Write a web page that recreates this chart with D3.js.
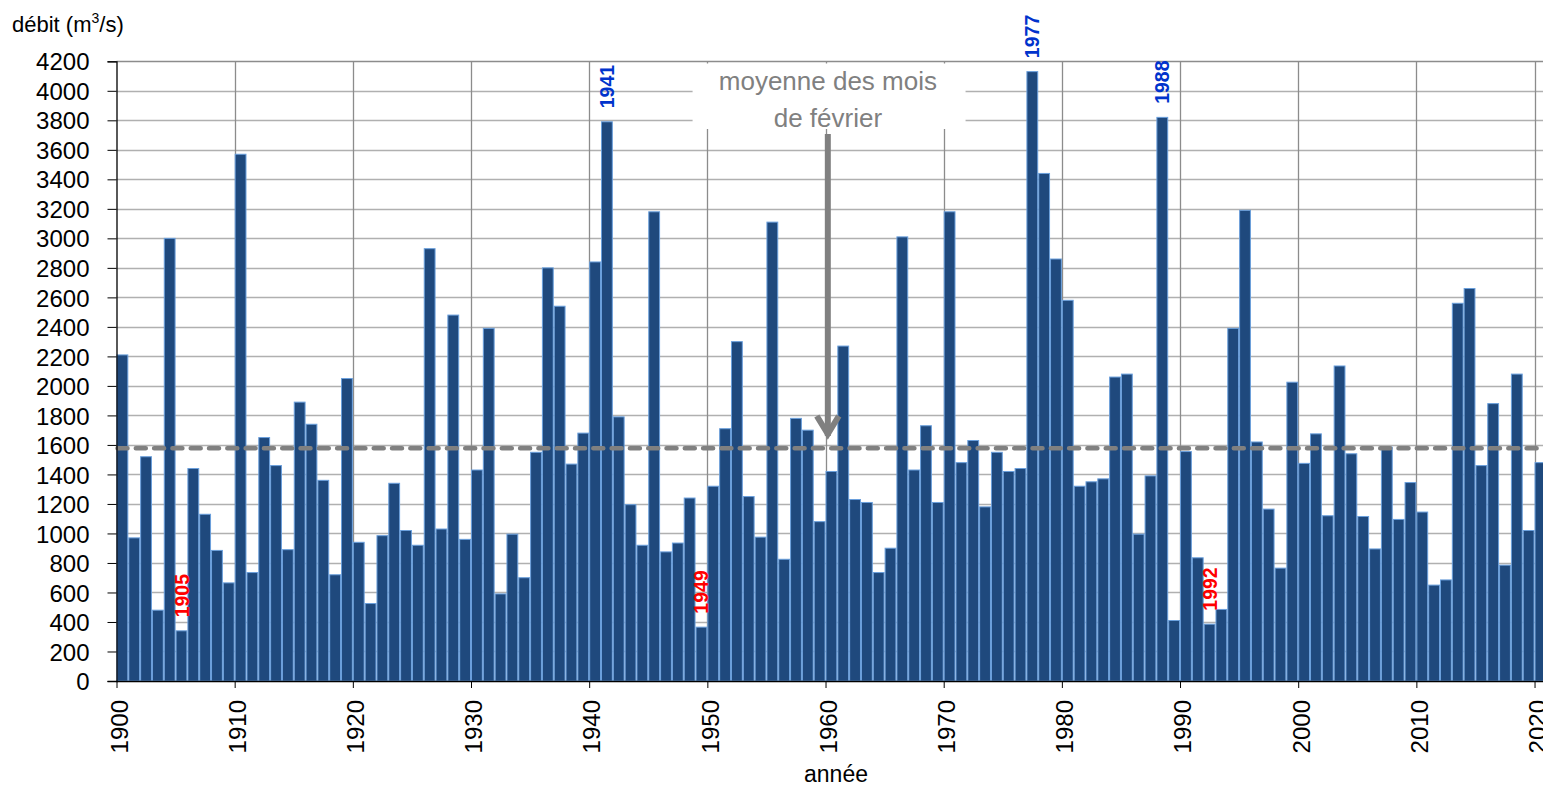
<!DOCTYPE html>
<html><head><meta charset="utf-8">
<script src="https://cdn.jsdelivr.net/npm/d3@7"></script>
<style>
html,body{margin:0;padding:0;background:#fff;overflow:hidden}
text{font-family:"Liberation Sans",Arial,sans-serif}
</style></head>
<body><svg id="c" width="1543" height="786"></svg>
<script>
const years = d3.range(1900, 2021);
const debit = [
 2210, 970, 1520, 480, 3000, 340, 1440, 1130, 885, 665,
 3570, 735, 1650, 1460, 890, 1890, 1740, 1360, 720, 2050,
 940, 525, 985, 1340, 1020, 920, 2930, 1030, 2480, 960,
 1430, 2390, 590, 995, 700, 1550, 2800, 2540, 1470, 1680,
 2840, 3790, 1790, 1195, 920, 3180, 875, 935, 1240, 365,
 1320, 1710, 2300, 1250, 975, 3110, 825, 1780, 1700, 1080,
 1420, 2270, 1230, 1210, 735, 900, 3010, 1430, 1730, 1210,
 3180, 1480, 1630, 1180, 1550, 1420, 1440, 4130, 3440, 2860,
 2580, 1320, 1350, 1370, 2060, 2080, 995, 1390, 3820, 410,
 1555, 835, 385, 485, 2390, 3190, 1620, 1165, 765, 2025,
 1475, 1675, 1120, 2135, 1540, 1115, 895, 1585, 1095, 1345,
 1145, 650, 685, 2560, 2660, 1460, 1880, 785, 2080, 1020,
 1480
];
const moyenne = 1578;
const yTicks = d3.range(0, 4201, 200);
const xTicks = d3.range(1900, 2021, 10);
const maxYears = [1941, 1977, 1988];
const minYears = [1905, 1949, 1992];
const yLabel = "débit (m";
const xLabel = "année";
const noteLines = ["moyenne des mois", "de février"];

const svg = d3.select("#c");
const x = d3.scaleLinear().domain([1900, 2021]).range([116.5, 116.5 + 121 * 11.817]);
const y = d3.scaleLinear().domain([0, 4200]).range([681, 61.3]);
const bw = x(1901) - x(1900);
const data = years.map((yr, i) => ({yr, v: debit[i]}));

// horizontal gridlines
svg.append("g").selectAll("line").data(yTicks.slice(1)).join("line")
  .attr("x1", x(1900)).attr("x2", 1543)
  .attr("y1", d => Math.round(y(d)) + 0.5).attr("y2", d => Math.round(y(d)) + 0.5)
  .attr("stroke", d => d === 4200 ? "#8c8c8c" : "#b0b0b0").attr("stroke-width", 1.3);
// vertical gridlines
svg.append("g").selectAll("line").data(xTicks.slice(1)).join("line")
  .attr("x1", d => Math.round(x(d)) + 0.5).attr("x2", d => Math.round(x(d)) + 0.5)
  .attr("y1", y(4200)).attr("y2", y(0))
  .attr("stroke", "#8c8c8c").attr("stroke-width", 1.3);

// note box (white) hiding grid
svg.append("rect").attr("x", x(1948.75)).attr("y", 63.5)
  .attr("width", x(1971.85) - x(1948.75)).attr("height", 65.5).attr("fill", "#fff");

// bars
svg.append("g").selectAll("rect").data(data).join("rect")
  .attr("x", d => x(d.yr) + 0.5).attr("width", bw - 1)
  .attr("y", d => y(d.v)).attr("height", d => y(0) - y(d.v))
  .attr("fill", "#1f497d").attr("stroke", "#6a9fdc").attr("stroke-width", 1);

// mean line
svg.append("line").attr("x1", x(1900) + 1).attr("x2", 1537)
  .attr("y1", y(moyenne)).attr("y2", y(moyenne))
  .attr("stroke", "#808080").attr("stroke-width", 4.5)
  .attr("stroke-dasharray", "10,8.3").attr("stroke-linecap", "round");

// axes
const yAxis = svg.append("g").attr("transform", `translate(${x(1900)},0)`)
  .call(d3.axisLeft(y).tickValues(yTicks).tickSize(9).tickPadding(18).tickFormat(d3.format("d")));
yAxis.select(".domain").attr("stroke", "#000").attr("stroke-width", 1.3);
yAxis.selectAll(".tick line").attr("stroke", "#000");
yAxis.selectAll(".tick text").attr("font-size", 24).attr("fill", "#000")
  .attr("font-family", "Liberation Sans, Arial, sans-serif").attr("dy", "0.36em");

const xAxis = svg.append("g").attr("transform", `translate(0,${y(0)})`)
  .call(d3.axisBottom(x).tickValues(xTicks).tickSize(7).tickSizeOuter(0).tickFormat(d3.format("d")));
xAxis.select(".domain").attr("stroke", "#000").attr("stroke-width", 1.3).attr("d", `M${x(1900)},0.5H1543`);
xAxis.selectAll(".tick line").attr("stroke", "#000");
xAxis.selectAll(".tick text").attr("font-size", 24).attr("fill", "#000")
  .attr("font-family", "Liberation Sans, Arial, sans-serif")
  .attr("transform", "rotate(-90)").attr("text-anchor", "end")
  .attr("x", -19).attr("y", 0).attr("dy", "0.45em");

// axis titles
const yt = svg.append("text").attr("x", 12).attr("y", 32).attr("font-size", 22).attr("fill", "#000");
yt.append("tspan").text(yLabel);
yt.append("tspan").text("3").attr("font-size", 14).attr("dy", -9);
yt.append("tspan").text("/s)").attr("dy", 9);
svg.append("text").attr("x", 836).attr("y", 782).attr("text-anchor", "middle")
  .attr("font-size", 23).attr("fill", "#000").text(xLabel);

// year labels
function yearLabel(yr, color) {
  const d = data.find(e => e.yr === yr);
  const cx = x(yr) + bw / 2;
  const cy = y(d.v) - 13.5;
  svg.append("text").attr("transform", `translate(${cx},${cy}) rotate(-90)`)
    .attr("dy", "0.36em").attr("font-size", 19.5).attr("font-weight", "bold")
    .attr("fill", color).text(yr);
}
maxYears.forEach(yr => yearLabel(yr, "#0033cc"));
minYears.forEach(yr => yearLabel(yr, "#ff0000"));

// note text
svg.append("text").attr("x", x(1960.2)).attr("y", 90).attr("text-anchor", "middle")
  .attr("font-size", 26).attr("fill", "#808080").text(noteLines[0]);
svg.append("text").attr("x", x(1960.2)).attr("y", 127).attr("text-anchor", "middle")
  .attr("font-size", 26).attr("fill", "#808080").text(noteLines[1]);

// arrow
const ax = x(1960) + 2.3;
svg.append("line").attr("x1", ax).attr("x2", ax).attr("y1", 134).attr("y2", 436)
  .attr("stroke", "#808080").attr("stroke-width", 6);
svg.append("path").attr("d", `M${ax - 11},416 L${ax},434 L${ax + 11},416`)
  .attr("fill", "none").attr("stroke", "#808080").attr("stroke-width", 6)
  .attr("stroke-linejoin", "miter");
</script></body></html>
